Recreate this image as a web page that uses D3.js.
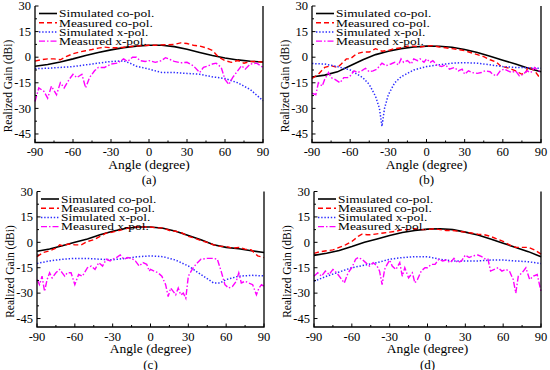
<!DOCTYPE html>
<html>
<head>
<meta charset="utf-8">
<script src="https://cdn.jsdelivr.net/npm/d3@7"></script>
<style>
  body { margin: 0; background: #fff; }
  svg { display: block; font-family: "Liberation Serif", "Times New Roman", serif; }
</style>
</head>
<body>
<div id="chart"></div>
<script>
const xTicks = [-90, -60, -30, 0, 30, 60, 90]
const yTicks = [30, 15, 0, -15, -30, -45]
const seriesNames = ['Simulated co-pol.', 'Measured co-pol.', 'Simulated x-pol.', 'Measured x-pol.']
const panelLabels = ['(a)', '(b)', '(c)', '(d)']

// panel (a)
const aSimCo = [[-90,-5.3],[-80,-4.3],[-70,-2.8],[-60,-1],[-50,1],[-40,2.8],[-30,4.3],[-20,5.6],[-10,6.5],[0,7],[10,7],[20,6.2],[30,4.6],[40,2.8],[50,1],[60,-0.5],[70,-1.6],[80,-2.4],[90,-2.8]]
const aMeaCo = [[-90,-2.3],[-85,-1.5],[-80,-1],[-75,-1],[-70,-1.5],[-65,0.5],[-60,2],[-55,3],[-50,3.8],[-45,4.5],[-40,5.3],[-35,5.9],[-30,5.5],[-25,5.5],[-20,5.8],[-15,6.2],[-10,6.5],[-5,6.8],[0,7],[5,7],[10,7.2],[15,7.3],[20,7.5],[25,8.4],[30,8],[35,7],[40,6.5],[45,5.5],[50,4],[55,0],[60,-2],[65,-3],[70,-2],[75,-3.5],[80,-2.5],[85,-2.5],[90,-3]]
const aSimX = [[-90,-6.7],[-80,-6.5],[-70,-6],[-60,-5.5],[-50,-4.5],[-40,-3.5],[-30,-2.5],[-20,-2.2],[-15,-3.5],[-10,-5.3],[0,-7],[10,-9],[20,-9],[30,-9.5],[40,-10],[50,-11.5],[60,-12.5],[70,-15],[80,-19],[90,-25.5]]
const aMeaX = [[-90,-26],[-87,-18],[-83,-20],[-80,-24],[-77,-17],[-73,-22],[-70,-15],[-67,-18],[-63,-13],[-60,-10],[-57,-12],[-53,-10],[-50,-18],[-47,-12],[-43,-8],[-40,-6],[-35,-6],[-30,-4],[-25,-3.5],[-20,-1],[-17,-2.5],[-13,0],[-10,0],[-7,-2],[-3,-2.5],[0,-2],[5,-3],[10,-2],[13,-0.3],[17,-1.5],[20,-2.5],[25,-3.3],[30,-3],[35,-5],[40,-9],[43,-6],[47,-5],[50,-4],[53,-3.5],[57,-6],[60,-13],[63,-16],[66,-12],[70,-8],[73,-5],[76,-7],[80,-4],[85,-3.5],[90,-6]]

// panel (b)
const bSimCo = [[-90,-11.6],[-80,-10.5],[-70,-8.6],[-60,-5],[-50,-1.5],[-40,1.5],[-30,3.5],[-20,5],[-10,6],[0,6.5],[10,6.4],[20,5.8],[30,4.5],[40,2.7],[50,0.5],[60,-1.8],[70,-4],[80,-6.5],[90,-8.5]]
const bMeaCo = [[-90,-12.5],[-85,-10],[-80,-6],[-75,-5],[-70,-6],[-67,-4],[-63,-1],[-60,-1],[-55,2],[-50,3],[-45,3],[-40,5],[-35,3.5],[-30,4],[-25,5],[-20,5.5],[-15,6.5],[-10,6.5],[-5,6],[0,6.5],[5,6.8],[10,6],[15,5.5],[20,5],[25,4.5],[30,3.8],[40,1.5],[45,0.3],[50,-1.5],[55,-3],[58,-5],[60,-5.5],[65,-6.5],[70,-8],[75,-10],[78,-9],[80,-5.5],[83,-7],[85,-8],[88,-11],[90,-11]]
const bSimX = [[-90,-3.7],[-80,-4],[-70,-5.5],[-60,-7.5],[-50,-12],[-45,-16],[-40,-23],[-37,-30],[-35,-40.5],[-33,-30],[-30,-22],[-25,-15],[-20,-11.5],[-10,-7.5],[0,-5.5],[10,-4.5],[20,-3.5],[30,-3.2],[40,-3.5],[50,-4.5],[60,-5.5],[70,-6],[80,-6.2],[90,-6.5]]
const bMeaX = [[-90,-21],[-87,-22],[-85,-15],[-82,-17],[-80,-13],[-77,-9],[-75,-12],[-72,-13],[-68,-15],[-65,-12],[-62,-12],[-60,-11],[-57,-8],[-54,-9],[-51,-8],[-48,-6.5],[-45,-8.5],[-42,-8],[-39,-7],[-35,-3.5],[-32,-5],[-28,-4],[-25,-3],[-22,-4.5],[-20,-1],[-18,-3],[-15,-2],[-12,-4],[-10,-1],[-7,-2],[-5,-1],[-2,-3],[0,-1],[3,-3],[5,-2],[8,-4.5],[12,-5.5],[15,-4.5],[18,-7],[22,-6],[25,-8],[28,-7],[30,-10],[33,-8],[36,-9],[40,-9.5],[43,-9],[46,-8],[50,-8.5],[52,-10],[55,-11],[58,-8],[61,-7],[64,-8],[67,-9],[70,-8],[73,-11],[76,-10],[79,-8],[82,-9],[85,-6],[88,-8],[90,-8]]

// panel (c)
const cSimCo = [[-90,-5.3],[-80,-4],[-70,-2],[-60,0],[-50,2],[-40,4.5],[-30,6.5],[-20,8.2],[-10,9],[0,9],[10,8.3],[20,6.5],[30,4],[40,1.5],[50,-1.5],[60,-3],[70,-3.8],[80,-5],[90,-6]]
const cMeaCo = [[-90,-8.5],[-85,-6],[-80,-5],[-75,-3.5],[-72,-1.5],[-70,-2],[-65,-1],[-60,-1.5],[-55,-1.5],[-50,0.5],[-45,1.5],[-40,3.5],[-35,5.5],[-30,6],[-25,7],[-20,8],[-15,9],[-10,9],[-5,9],[0,9],[5,8.5],[10,8.5],[15,7],[20,6.5],[25,5.5],[30,3.5],[35,2.5],[40,1],[45,0],[50,-1.5],[55,-2.3],[60,-2.5],[65,-3.5],[70,-3],[75,-4],[80,-4.5],[85,-8],[90,-9]]
const cSimX = [[-90,-12.5],[-80,-11],[-70,-10],[-60,-9.5],[-50,-9.5],[-40,-10],[-30,-10.3],[-20,-9.5],[-10,-8.5],[0,-8],[10,-8.5],[20,-10.5],[30,-14],[40,-19],[50,-24],[55,-24],[60,-22],[70,-20],[80,-19.5],[90,-19.8]]
const cMeaX = [[-90,-22],[-88,-25],[-86,-20],[-84,-29],[-82,-22],[-80,-18],[-78,-21],[-75,-18],[-72,-16],[-70,-18],[-68,-20],[-66,-18],[-63,-18],[-60,-25],[-57,-19],[-54,-20],[-50,-15],[-47,-14],[-44,-16],[-41,-12],[-38,-14],[-35,-10],[-32,-11],[-30,-10],[-27,-9],[-24,-7.5],[-21,-10],[-18,-9],[-15,-9.5],[-12,-11],[-9,-14],[-6,-12],[-3,-13],[-1,-17],[0,-16],[3,-17],[6,-18],[9,-20],[12,-25],[14,-32],[16,-27],[18,-29],[20,-31],[22,-27],[24,-31],[26,-30],[28,-33],[30,-20],[33,-16],[36,-13],[40,-10],[45,-9.5],[50,-9.5],[53,-10],[56,-17],[59,-25],[62,-27],[65,-26],[68,-23],[70,-18],[72,-24],[75,-23],[78,-24],[81,-25],[84,-31],[86,-27],[88,-25],[90,-26]]

// panel (d)
const dSimCo = [[-90,-7.7],[-80,-6.5],[-70,-4.8],[-60,-2.5],[-50,0],[-40,2],[-30,4],[-20,5.8],[-10,7],[0,7.8],[10,8],[20,7.5],[30,6],[40,4.3],[50,2],[60,-0.5],[70,-3],[80,-5.5],[90,-8.5]]
const dMeaCo = [[-90,-6.5],[-85,-5.5],[-80,-5],[-75,-4.5],[-70,-3],[-65,-1.5],[-60,0.5],[-55,3.5],[-52,4.8],[-48,4.5],[-45,4.5],[-40,5],[-35,5.5],[-30,6],[-25,6.5],[-20,7.5],[-15,7.5],[-10,8],[-5,7.5],[0,7.5],[5,8],[10,7.5],[15,7],[20,7],[25,6.5],[30,6],[35,5.5],[40,4.8],[45,4.5],[50,3.5],[55,2],[60,0.5],[65,-1.5],[70,-3],[75,-3],[80,-3],[85,-4.5],[90,-7]]
const dSimX = [[-90,-23],[-80,-20],[-70,-17.5],[-60,-15],[-50,-13.5],[-40,-12],[-30,-10],[-20,-9],[-10,-8.5],[0,-8.5],[10,-10],[20,-11],[30,-11],[40,-11],[50,-10.5],[60,-10.5],[70,-11],[80,-11.5],[90,-12.5]]
const dMeaX = [[-90,-20],[-87,-18],[-84,-20],[-81,-17],[-78,-19],[-75,-16],[-72,-18],[-69,-21],[-66,-24],[-63,-18],[-60,-15],[-57,-10],[-55,-9],[-52,-10],[-49,-12],[-46,-14],[-43,-12],[-40,-14],[-38,-17],[-36,-25],[-34,-16],[-32,-13],[-30,-10.5],[-28,-14],[-25,-16],[-22,-12],[-20,-20],[-18,-15],[-15,-21],[-12,-18],[-10,-24],[-8,-22],[-5,-17],[-2,-15],[0,-15],[3,-13],[6,-13],[9,-10],[12,-11],[15,-10.5],[18,-12],[21,-9.5],[24,-12],[27,-11],[30,-7.5],[33,-9],[36,-8],[40,-7.5],[43,-8.5],[46,-10],[48,-10],[50,-17],[53,-16],[56,-15],[59,-17],[62,-16],[65,-17],[68,-22],[70,-30],[72,-20],[75,-18],[78,-15],[81,-22],[84,-20],[87,-19],[90,-29]]

const styles = [
    { color: '#000000', dash: null, width: 1.6 },
    { color: '#ff0000', dash: '5,3', width: 1.4 },
    { color: '#2b2bff', dash: '1.4,1.8', width: 1.5 },
    { color: '#ff00ff', dash: '6,2,1.5,2', width: 1.4 }
]

const panels = [
    { box: [35, 263, 6, 142.5], series: [aSimCo, aMeaCo, aSimX, aMeaX] },
    { box: [312, 541, 6, 142.5], series: [bSimCo, bMeaCo, bSimX, bMeaX] },
    { box: [37, 264, 191.5, 327], series: [cSimCo, cMeaCo, cSimX, cMeaX] },
    { box: [314, 541, 191.5, 327], series: [dSimCo, dMeaCo, dSimX, dMeaX] }
]

const svg = d3.select('#chart').append('svg').attr('width', 550).attr('height', 370)

panels.forEach((p, pi) => {
    const [x0, x1, y0, y1] = p.box
    const x = d3.scaleLinear().domain([-90, 90]).range([x0, x1])
    const y = d3.scaleLinear().domain([-50, 30]).range([y1, y0])
    const g = svg.append('g')

    // curves
    const line = d3.line().x(d => x(d[0])).y(d => y(d[1]))
    p.series.forEach((s, i) => {
        g.append('path')
            .datum(s)
            .attr('d', line)
            .attr('fill', 'none')
            .attr('stroke', styles[i].color)
            .attr('stroke-width', styles[i].width)
            .attr('stroke-dasharray', styles[i].dash)
    })

    // frame: left, bottom, right
    g.append('path')
        .attr('d', `M${x0},${y0}V${y1}H${x1}V${y0}`)
        .attr('fill', 'none').attr('stroke', '#000').attr('stroke-width', 1.3)

    // x ticks (inward)
    d3.range(-90, 91, 15).forEach(t => {
        const major = t % 30 === 0
        g.append('line')
            .attr('x1', x(t)).attr('x2', x(t))
            .attr('y1', y1).attr('y2', y1 - (major ? 3.5 : 2))
            .attr('stroke', '#000').attr('stroke-width', 1)
    })
    xTicks.forEach(t => {
        g.append('text')
            .attr('x', x(t)).attr('y', y1 + 13.5)
            .attr('text-anchor', 'middle')
            .attr('font-size', '12.5px')
            .text(t)
    })

    // y ticks (inward)
    d3.range(-45, 30.1, 7.5).forEach(t => {
        const major = t % 15 === 0
        g.append('line')
            .attr('x1', x0).attr('x2', x0 + (major ? 3.5 : 2))
            .attr('y1', y(t)).attr('y2', y(t))
            .attr('stroke', '#000').attr('stroke-width', 1)
    })
    yTicks.forEach(t => {
        g.append('text')
            .attr('x', x0 - 4).attr('y', y(t) + 4.3)
            .attr('text-anchor', 'end')
            .attr('font-size', '12.5px')
            .text(t)
    })

    // axis titles
    g.append('text')
        .attr('x', (x0 + x1) / 2).attr('y', y1 + 26)
        .attr('text-anchor', 'middle')
        .attr('font-size', '13.5px')
        .text('Angle (degree)')
    g.append('text')
        .attr('transform', `translate(${x0 - 23},${y0 + 80}) rotate(-90)`)
        .attr('text-anchor', 'middle')
        .attr('font-size', '11.5px')
        .text('Realized Gain (dBi)')
    g.append('text')
        .attr('x', (x0 + x1) / 2).attr('y', y1 + 41.5)
        .attr('text-anchor', 'middle')
        .attr('font-size', '13px')
        .text(panelLabels[pi])

    // legend (text is tall-narrow in the original, so widen a smaller font)
    const legend = g.append('g').attr('transform', `translate(${x0 + 4}, ${y0 + 7.5})`)
    seriesNames.forEach((name, i) => {
        const row = legend.append('g').attr('transform', `translate(0, ${i * 9.2})`)
        row.append('line')
            .attr('x1', 0).attr('x2', 18)
            .attr('y1', 0).attr('y2', 0)
            .attr('stroke', styles[i].color)
            .attr('stroke-width', styles[i].width)
            .attr('stroke-dasharray', styles[i].dash)
        row.append('text')
            .attr('transform', 'translate(20,3.8) scale(1.22,1)')
            .attr('font-size', '11px')
            .text(name)
    })
})
</script>
</body>
</html>
